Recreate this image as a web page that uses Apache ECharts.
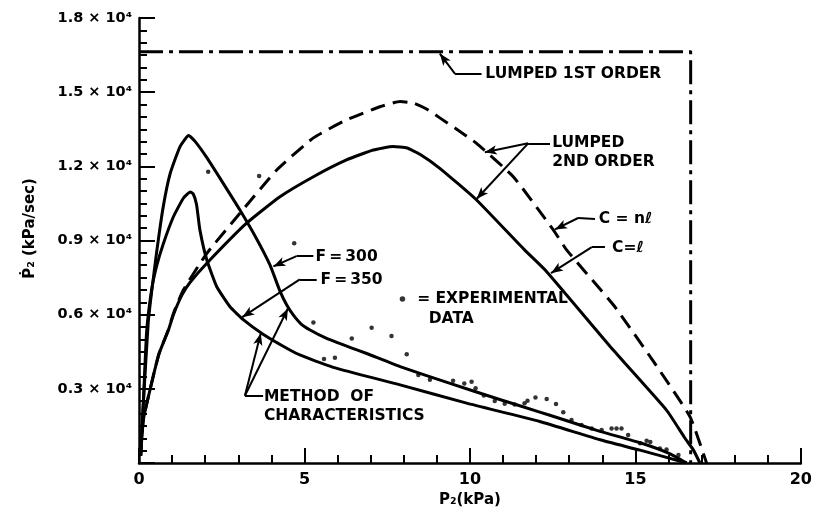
<!DOCTYPE html>
<html><head><meta charset="utf-8">
<script src="https://cdn.jsdelivr.net/npm/echarts@6/dist/echarts.min.js"></script>
<style>html,body{margin:0;padding:0;background:#fff}#c{width:815px;height:525px}</style>
</head><body><div id="c"></div>
<script>
// ---- data (x = P2 in kPa, y = dP2/dt in kPa/sec) ----
const xTickValues = [0, 5, 10, 15, 20];
const yTickValues = [0, 3000, 6000, 9000, 12000, 15000, 18000];

const moc300 = [[0.05,300],[0.13,2400],[0.28,5700],[0.38,6900],[0.53,8500],[0.73,10350],[0.94,11700],[1.24,12800],[1.5,13250],[1.7,13000],[2.05,12350],[2.55,11300],[3.05,10230],[3.56,9050],[3.96,8000],[4.26,6950],[4.46,6400],[4.66,5990],[4.9,5620],[5.17,5380],[5.67,5040],[6.37,4680],[6.88,4430],[7.89,3900],[9.4,3220],[10.9,2570],[12.11,2060],[12.72,1800],[13.93,1280],[15.14,820],[16.0,400],[16.55,0]];
const moc350 = [[0.05,300],[0.13,2400],[0.23,5300],[0.38,7000],[0.53,7950],[0.73,8850],[1.04,9960],[1.34,10710],[1.55,10960],[1.64,10880],[1.74,10450],[1.84,9430],[2.05,8210],[2.35,7130],[2.75,6320],[3.15,5800],[3.76,5200],[4.56,4570],[4.86,4370],[5.87,3870],[7.89,3160],[9.9,2420],[12.11,1680],[13.93,940],[15.14,520],[16.55,0]];
const lumpedL = [[0.05,300],[0.13,1740],[0.33,2950],[0.6,4400],[0.89,5380],[1.04,6000],[1.3,6800],[1.54,7300],[2.05,8080],[3.25,9700],[4.26,10770],[5.27,11580],[6.27,12260],[7.08,12660],[7.68,12800],[8.1,12740],[8.5,12480],[9.09,11920],[10.2,10640],[11.65,8620],[12.32,7740],[14.33,4570],[15.94,2140],[16.5,1000],[16.75,530],[16.95,0]];
const lumpedNL = [[0.05,300],[0.13,1740],[0.33,2950],[0.6,4400],[0.89,5400],[1.04,6050],[1.34,7000],[2.05,8480],[3.05,10100],[4.16,11850],[5.27,13150],[6.27,13880],[7.28,14410],[7.89,14620],[8.3,14560],[8.69,14320],[9.09,13960],[9.6,13500],[10.2,12930],[11.31,11580],[12.52,9430],[12.92,8620],[14.33,6400],[15.54,4120],[16.65,1870],[17.15,0]];
const lumped1st = [[0,16630],[16.67,16630],[16.67,0]];
const experimental = [[2.09,11780],[3.63,11610],[4.69,8890],[5.27,5680],[5.59,4210],[5.92,4260],[6.43,5040],[7.03,5470],[7.63,5140],[8.09,4400],[8.44,3560],[8.79,3370],[9.49,3330],[9.83,3220],[10.05,3290],[10.17,3020],[10.42,2730],[10.75,2510],[11.05,2400],[11.35,2370],[11.65,2420],[11.74,2520],[11.98,2650],[12.32,2590],[12.6,2390],[12.82,2050],[13.07,1740],[13.37,1540],[13.68,1400],[13.98,1330],[14.28,1400],[14.43,1400],[14.58,1400],[14.78,1130],[15.14,800],[15.34,900],[15.45,850],[15.74,590],[15.94,550],[16.3,320]];

// ---- annotations (data coordinates) ----
const noteTexts = ['LUMPED 1ST ORDER','LUMPED\n2ND ORDER','C = n\u2113','C=\u2113','F\u2009=\u2009300','F\u2009=\u2009350','= EXPERIMENTAL','DATA','METHOD  OF\nCHARACTERISTICS'];
const noteAt = [[10.45,15740],[12.47,12560],[13.88,9870],[14.28,8690],[5.32,8320],[5.47,7400],[8.39,6630],[8.74,5830],[3.76,2300]];
const legendDot = [[7.96,6630]];
const leaders = [
  [[10.35,15740],[9.55,15740],false],[[9.55,15740],[9.09,16560],true],
  [[12.42,12930],[11.76,12930],false],[[11.76,12930],[10.45,12570],true],[[11.76,12930],[10.2,10680],true],
  [[13.78,9870],[13.27,9910],false],[[13.27,9910],[12.57,9450],true],
  [[14.08,8730],[13.68,8730],false],[[13.68,8730],[12.45,7680],true],
  [[5.27,8370],[4.76,8370],false],[[4.76,8370],[4.06,7950],true],
  [[5.37,7430],[4.86,7430],false],[[4.86,7430],[3.12,5900],true],
  [[3.75,2720],[3.2,2720],false],[[3.2,2720],[3.68,5250],true],[[3.2,2720],[4.5,6250],true]
];

const FONT = 'DejaVu Sans';
const chart = echarts.init(document.getElementById('c'), null, {renderer:'canvas'});

function curve(name, data, type, smooth) {
  return {name, type:'line', data, symbol:'none', showSymbol:false, smooth, silent:true,
    lineStyle:{color:'#000', width:3, type, join:'round'}, z:3};
}

chart.setOption({
  animation:false,
  backgroundColor:'#fff',
  grid:{left:139, right:14, top:18, bottom:62, containLabel:false},
  xAxis:{type:'value', min:0, max:20, interval:5,
    name:'P\u2082(kPa)', nameLocation:'middle', nameGap:29,
    nameTextStyle:{fontFamily:FONT, fontWeight:'bold', fontSize:15, color:'#000'},
    axisLine:{lineStyle:{color:'#000', width:2.5}},
    axisTick:{inside:true, length:15, lineStyle:{color:'#000', width:2}},
    minorTick:{show:true, splitNumber:5, length:8, lineStyle:{color:'#000', width:2}},
    splitLine:{show:false}, minorSplitLine:{show:false},
    axisLabel:{margin:9, fontFamily:FONT, fontWeight:'bold', fontSize:16, color:'#000',
      formatter:v => xTickValues.includes(v) ? String(v) : ''}
  },
  yAxis:{type:'value', min:0, max:18000, interval:3000,
    name:'\u1E56\u2082 (kPa/sec)', nameLocation:'middle', nameGap:101, nameRotate:90,
    nameTextStyle:{fontFamily:FONT, fontWeight:'bold', fontSize:15, color:'#000', padding:[0,0,0,24]},
    axisLine:{show:true, lineStyle:{color:'#000', width:2.5}},
    axisTick:{show:true, inside:true, length:16, lineStyle:{color:'#000', width:2}},
    minorTick:{show:true, splitNumber:6, length:8, lineStyle:{color:'#000', width:2}},
    splitLine:{show:false}, minorSplitLine:{show:false},
    axisLabel:{margin:7, fontFamily:FONT, fontWeight:'bold', fontSize:14.5, color:'#000',
      formatter:v => (v === 0 || !yTickValues.includes(v)) ? '' : (v/10000).toFixed(1) + ' \u00D7 10\u2074'}
  },
  series:[
    curve('Lumped 1st order', lumped1st, [24,6,4,6], false),
    curve('Lumped 2nd order C=n\u2113', lumpedNL, [15,8], 0.15),
    curve('Lumped 2nd order C=\u2113', lumpedL, 'solid', 0.15),
    curve('F=300', moc300, 'solid', 0.15),
    curve('F=350', moc350, 'solid', 0.15),
    {name:'Experimental data', type:'scatter', data:experimental, symbol:'circle', symbolSize:4.5,
      itemStyle:{color:'#000'}, silent:true, z:4},
    {name:'legendDot', type:'scatter', data:legendDot, symbol:'circle', symbolSize:5.5,
      itemStyle:{color:'#000'}, silent:true, z:4},
    {name:'notes', type:'scatter', silent:true, symbol:'circle', symbolSize:1,
      itemStyle:{color:'#fff', opacity:1}, z:5,
      data: noteAt.map((p,i) => ({value:p, label:{formatter:noteTexts[i]}})),
      label:{show:true, position:'right', distance:0, align:'left', verticalAlign:'middle', opacity:1,
        fontFamily:FONT, fontWeight:'bold', fontSize:15.5, lineHeight:19, color:'#000', textBorderWidth:0}
    },
    {name:'leaders', type:'line', data:[], silent:true, z:5,
      markLine:{silent:true, animation:false, symbolSize:[7,12], precision:6,
        lineStyle:{color:'#000', width:2, type:'solid'}, label:{show:false},
        emphasis:{disabled:true},
        data: leaders.map(([a,b,arrow]) => [{coord:a, symbol:'none'},{coord:b, symbol: arrow ? 'arrow' : 'none'}])
      }
    }
  ]
});
</script></body></html>
